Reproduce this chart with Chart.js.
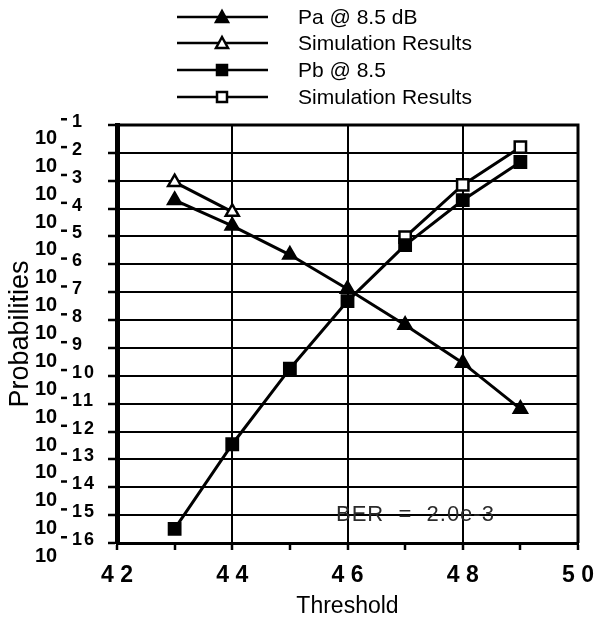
<!DOCTYPE html>
<html>
<head>
<meta charset="utf-8">
<script src="https://cdn.jsdelivr.net/npm/chart.js@4"></script>
<style>
    html, body { margin: 0; padding: 0; background: #fff; }
    #wrap { width: 595px; height: 618px; position: relative; }
</style>
</head>
<body>
<div id="wrap"><canvas id="chart" width="595" height="618"></canvas></div>
<script>
// Threshold vs probabilities (log scale)
const thresholds = [43, 44, 45, 46, 47, 48, 49];
const paValues = [2.0e-4, 2.4e-5, 2.2e-6, 1.3e-7, 6.6e-9, 2.9e-10, 6.5e-12];
const paSimThresholds = [43, 44];
const paSimValues = [8.9e-4, 7.6e-5];
const pbValues = [3.2e-16, 3.5e-13, 1.8e-10, 4.8e-8, 4.9e-6, 2.0e-4, 4.7e-3];
const pbSimThresholds = [47, 48, 49];
const pbSimValues = [9.5e-6, 7.1e-4, 1.6e-2];

const yExponents = [-1, -2, -3, -4, -5, -6, -7, -8, -9, -10, -11, -12, -13, -14, -15, -16];
const xMin = 42, xMax = 50;
const berText = "BER  =  2.0e-3";

const FONT = "'Liberation Sans', Arial, sans-serif";

function toPoints(xs, ys) {
    return xs.map((x, i) => ({ x: x, y: ys[i] }));
}

function makeSet(label, xs, ys, style, filled) {
    return {
        label: label,
        data: toPoints(xs, ys),
        borderColor: "#000",
        borderWidth: 3,
        pointStyle: style,
        pointRadius: style === "triangle" ? 7.5 : 8,
        pointBorderWidth: 2.5,
        pointBorderColor: "#000",
        pointBackgroundColor: filled ? "#000" : "#fff",
        tension: 0
    };
}

// draws frame, y tick labels with exponents, legend and BER note
const decorPlugin = {
    id: "decor",
    afterDraw(chart) {
        const ctx = chart.ctx;
        const area = chart.chartArea;
        const yScale = chart.scales.y;

        ctx.save();
        ctx.strokeStyle = "#000";
        ctx.lineWidth = 3;
        ctx.beginPath();
        ctx.moveTo(area.left, area.top);
        ctx.lineTo(area.right, area.top);
        ctx.lineTo(area.right, area.bottom);
        ctx.stroke();

        // y tick labels 10^-n
        ctx.fillStyle = "#000";
        ctx.textAlign = "left";
        ctx.textBaseline = "alphabetic";
        yExponents.forEach(e => {
            const y = yScale.getPixelForValue(Math.pow(10, e));
            ctx.font = "bold 20px " + FONT;
            ctx.fillText("10", 35, y + 19);
            ctx.fillRect(61, y - 7, 6, 2.5);
            ctx.font = "bold 18px " + FONT;
            ctx.letterSpacing = "2px";
            ctx.fillText(String(-e), 72, y + 2);
            ctx.letterSpacing = "0px";
        });

        // legend
        const rows = [17, 43, 70, 97];
        chart.data.datasets.forEach((ds, i) => {
            const y = rows[i];
            ctx.strokeStyle = "#000";
            ctx.lineWidth = 2.5;
            ctx.beginPath();
            ctx.moveTo(177, y);
            ctx.lineTo(268, y);
            ctx.stroke();
            ctx.fillStyle = ds.pointBackgroundColor;
            ctx.lineWidth = 2.5;
            ctx.beginPath();
            if (ds.pointStyle === "triangle") {
                ctx.moveTo(222, y - 6);
                ctx.lineTo(228, y + 5);
                ctx.lineTo(216, y + 5);
                ctx.closePath();
            } else {
                ctx.rect(217, y - 5, 10, 10);
            }
            ctx.fill();
            ctx.stroke();
            ctx.fillStyle = "#000";
            ctx.font = "21px " + FONT;
            ctx.textBaseline = "middle";
            ctx.fillText(ds.label, 298, y + 1);
        });

        // BER note
        ctx.fillStyle = "#2a2a2a";
        ctx.font = "22px " + FONT;
        ctx.textBaseline = "middle";
        ctx.letterSpacing = "1px";
        ctx.fillText(berText, 336, yScale.getPixelForValue(1e-15));
        ctx.restore();
    }
};

new Chart(document.getElementById("chart"), {
    type: "line",
    data: {
        datasets: [
            makeSet("Pa @ 8.5 dB", thresholds, paValues, "triangle", true),
            makeSet("Simulation Results", paSimThresholds, paSimValues, "triangle", false),
            makeSet("Pb @ 8.5", thresholds, pbValues, "rect", true),
            makeSet("Simulation Results", pbSimThresholds, pbSimValues, "rect", false)
        ]
    },
    options: {
        responsive: false,
        animation: false,
        layout: { padding: { top: 125, right: 0, left: 0, bottom: 0 } },
        plugins: {
            legend: { display: false },
            tooltip: { enabled: false }
        },
        scales: {
            x: {
                type: "linear",
                min: xMin,
                max: xMax,
                afterFit(scale) {
                    scale.height = 75;
                    scale.paddingRight = 17;
                },
                ticks: {
                    stepSize: 1,
                    color: "#000",
                    padding: 12,
                    maxRotation: 0,
                    autoSkip: false,
                    font: { family: FONT, size: 23, weight: "bold" },
                    callback: v => (v % 2 === 0 ? String(v).split("").join(" ") : "")
                },
                grid: {
                    color: ctx => (ctx.tick && ctx.tick.value % 2 === 0 ? "#000" : "rgba(0,0,0,0)"),
                    lineWidth: 2,
                    borderDash: [2, 2],
                    tickColor: "#000",
                    tickLength: 7,
                    tickWidth: 2.5,
                    tickBorderDash: []
                },
                border: { display: true, color: "#000", width: 3 },
                title: {
                    display: true,
                    text: "Threshold",
                    color: "#000",
                    padding: { top: 0, bottom: 0 },
                    font: { family: FONT, size: 23, lineHeight: 1 }
                }
            },
            y: {
                type: "logarithmic",
                min: 1e-16,
                max: 1e-1,
                afterBuildTicks(scale) {
                    scale.ticks = yExponents.map(e => ({ value: Math.pow(10, e) }));
                },
                afterFit(scale) { scale.width = 117; },
                ticks: { display: false },
                grid: {
                    color: "#000",
                    lineWidth: 2,
                    borderDash: [2, 2],
                    tickColor: "#000",
                    tickLength: 9,
                    tickWidth: 2.5,
                    tickBorderDash: []
                },
                border: { display: true, color: "#000", width: 5 },
                title: {
                    display: true,
                    text: "Probabilities",
                    color: "#000",
                    padding: { top: 4, bottom: 0 },
                    font: { family: FONT, size: 27 }
                }
            }
        }
    },
    plugins: [decorPlugin]
});
</script>
</body>
</html>
